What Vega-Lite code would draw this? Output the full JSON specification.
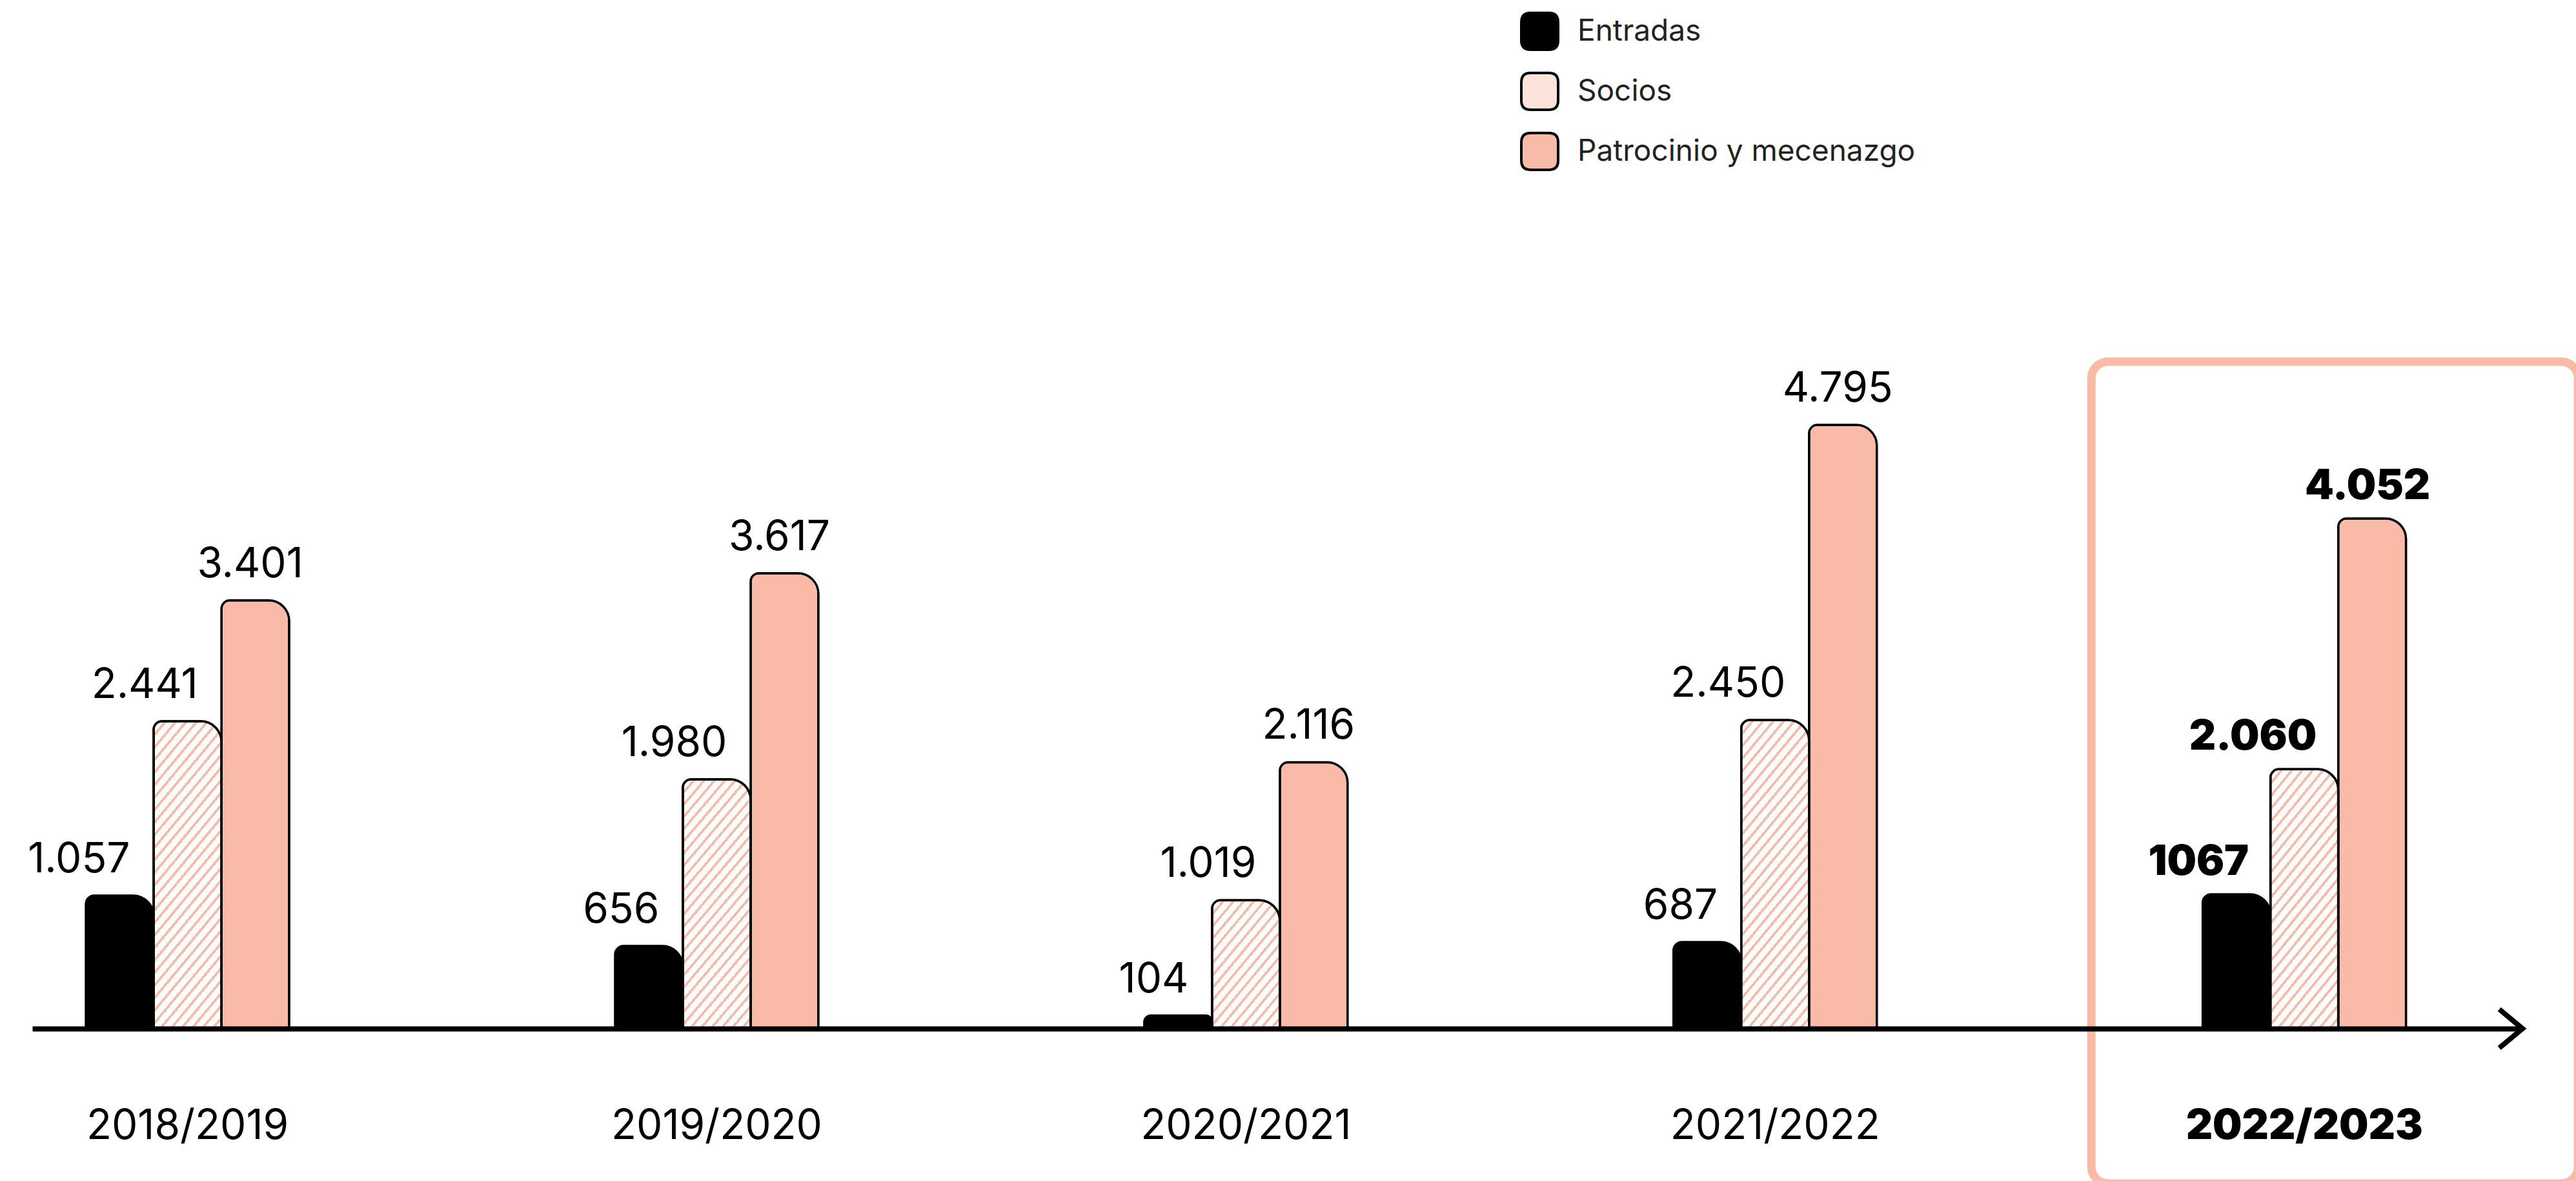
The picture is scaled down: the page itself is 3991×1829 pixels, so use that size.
{
  "$schema": "https://vega.github.io/schema/vega-lite/v6.json",
  "width": 3855,
  "height": 1593,
  "autosize": {"type": "none"},
  "padding": {"left": 50, "right": 86, "top": 0, "bottom": 236},
  "background": "white",
  "config": {"view": {"stroke": null}, "font": "Inter"},
  "resolve": {"scale": {"y": "independent"}},
  "data": {"values": [
    {"year": "2018/2019", "series": "Entradas", "value": 1057, "label": "1.057"},
    {"year": "2018/2019", "series": "Socios", "value": 2441, "label": "2.441"},
    {"year": "2018/2019", "series": "Patrocinio y mecenazgo", "value": 3401, "label": "3.401"},
    {"year": "2019/2020", "series": "Entradas", "value": 656, "label": "656"},
    {"year": "2019/2020", "series": "Socios", "value": 1980, "label": "1.980"},
    {"year": "2019/2020", "series": "Patrocinio y mecenazgo", "value": 3617, "label": "3.617"},
    {"year": "2020/2021", "series": "Entradas", "value": 104, "label": "104"},
    {"year": "2020/2021", "series": "Socios", "value": 1019, "label": "1.019"},
    {"year": "2020/2021", "series": "Patrocinio y mecenazgo", "value": 2116, "label": "2.116"},
    {"year": "2021/2022", "series": "Entradas", "value": 687, "label": "687"},
    {"year": "2021/2022", "series": "Socios", "value": 2450, "label": "2.450"},
    {"year": "2021/2022", "series": "Patrocinio y mecenazgo", "value": 4795, "label": "4.795"},
    {"year": "2022/2023", "series": "Entradas", "value": 1067, "label": "1067"},
    {"year": "2022/2023", "series": "Socios", "value": 2060, "label": "2.060"},
    {"year": "2022/2023", "series": "Patrocinio y mecenazgo", "value": 4052, "label": "4.052"}
  ]},
  "layer": [
    {
      "transform": [
        {"joinaggregate": [{"op": "max", "field": "value", "as": "topValue"}, {"op": "min", "field": "value", "as": "bottomValue"}]},
        {"filter": "datum.year === '2022/2023' && datum.series === 'Patrocinio y mecenazgo'"}
      ],
      "mark": {"type": "bar", "width": 754, "xOffset": 47, "fill": "transparent", "stroke": "#f9bba7", "strokeWidth": 13, "cornerRadius": 26},
      "encoding": {
        "x": {"field": "year", "type": "nominal", "sort": ["2018/2019", "2019/2020", "2020/2021", "2021/2022", "2022/2023"], "scale": {"type": "band", "paddingInner": 0.6158, "paddingOuter": 0.1588, "align": 0.319}},
        "y": {"field": "topValue", "type": "quantitative", "scale": {"domain": [988.4, 6858.6], "nice": false, "zero": false}, "axis": null},
        "y2": {"field": "bottomValue"}
      }
    },
    {
      "mark": {"type": "bar", "stroke": "black", "strokeWidth": 3.5, "cornerRadiusTopLeft": 13, "cornerRadiusTopRight": 32},
      "encoding": {
        "x": {
          "field": "year", "type": "nominal", "sort": ["2018/2019", "2019/2020", "2020/2021", "2021/2022", "2022/2023"],
          "scale": {"type": "band", "paddingInner": 0.6158, "paddingOuter": 0.1588, "align": 0.319},
          "axis": {
            "title": null, "domain": true, "domainColor": "black", "domainWidth": 8, "ticks": false, "grid": false,
            "bandPosition": 0.5, "labelAlign": "center",
            "labelFont": "Inter", "labelFontSize": 64, "labelColor": "black", "labelBaseline": "alphabetic", "labelPadding": 170, "labelAngle": 0, "labelLimit": 0,
            "labelFontWeight": {"condition": {"test": "datum.value === '2022/2023'", "value": 900}, "value": 400},
            "zindex": 1
          }
        },
        "xOffset": {"field": "series", "type": "nominal", "sort": ["Entradas", "Socios", "Patrocinio y mecenazgo"], "scale": {"paddingInner": 0, "paddingOuter": 0}},
        "y": {"field": "value", "type": "quantitative", "scale": {"domain": [0, 8170], "nice": false}, "axis": null},
        "fill": {
          "field": "series", "type": "nominal",
          "scale": {"domain": ["Entradas", "Socios", "Patrocinio y mecenazgo"], "range": ["#000000", "#fde4db", "#f9bba7"]},
          "legend": {
            "title": null, "orient": "none", "legendX": 2305, "legendY": 18, "padding": 0,
            "symbolType": "M -0.5 -1 L 0.5 -1 Q 1 -1 1 -0.5 L 1 0.5 Q 1 1 0.5 1 L -0.5 1 Q -1 1 -1 0.5 L -1 -0.5 Q -1 -1 -0.5 -1 Z",
            "symbolSize": 3249, "symbolStrokeColor": "black", "symbolStrokeWidth": 4, "symbolOpacity": 1,
            "labelFont": "Inter", "labelFontSize": 46, "labelColor": "#222222", "labelOffset": 28, "rowPadding": 20, "labelLimit": 0
          }
        }
      }
    },
    {
      "transform": [{"filter": "datum.series === 'Socios' && (datum.year === '2018/2019' || datum.year === '2021/2022')"}],
      "mark": {"type": "bar", "stroke": "black", "strokeWidth": 3.5, "cornerRadiusTopLeft": 13, "cornerRadiusTopRight": 32,
        "fill": {"gradient": "linear", "x1": 0, "y1": 0, "x2": 0.3124, "y2": 1.1818, "stops": [
{"offset":0,"color":"#f9bba7"},{"offset":0.0097,"color":"#f9bba7"},{"offset":0.0097,"color":"#fff"},{"offset":0.0323,"color":"#fff"},
{"offset":0.0323,"color":"#f9bba7"},{"offset":0.0419,"color":"#f9bba7"},{"offset":0.0419,"color":"#fff"},{"offset":0.0645,"color":"#fff"},
{"offset":0.0645,"color":"#f9bba7"},{"offset":0.0742,"color":"#f9bba7"},{"offset":0.0742,"color":"#fff"},{"offset":0.0968,"color":"#fff"},
{"offset":0.0968,"color":"#f9bba7"},{"offset":0.1065,"color":"#f9bba7"},{"offset":0.1065,"color":"#fff"},{"offset":0.129,"color":"#fff"},
{"offset":0.129,"color":"#f9bba7"},{"offset":0.1387,"color":"#f9bba7"},{"offset":0.1387,"color":"#fff"},{"offset":0.1613,"color":"#fff"},
{"offset":0.1613,"color":"#f9bba7"},{"offset":0.171,"color":"#f9bba7"},{"offset":0.171,"color":"#fff"},{"offset":0.1935,"color":"#fff"},
{"offset":0.1935,"color":"#f9bba7"},{"offset":0.2032,"color":"#f9bba7"},{"offset":0.2032,"color":"#fff"},{"offset":0.2258,"color":"#fff"},
{"offset":0.2258,"color":"#f9bba7"},{"offset":0.2355,"color":"#f9bba7"},{"offset":0.2355,"color":"#fff"},{"offset":0.2581,"color":"#fff"},
{"offset":0.2581,"color":"#f9bba7"},{"offset":0.2677,"color":"#f9bba7"},{"offset":0.2677,"color":"#fff"},{"offset":0.2903,"color":"#fff"},
{"offset":0.2903,"color":"#f9bba7"},{"offset":0.3,"color":"#f9bba7"},{"offset":0.3,"color":"#fff"},{"offset":0.3226,"color":"#fff"},
{"offset":0.3226,"color":"#f9bba7"},{"offset":0.3323,"color":"#f9bba7"},{"offset":0.3323,"color":"#fff"},{"offset":0.3548,"color":"#fff"},
{"offset":0.3548,"color":"#f9bba7"},{"offset":0.3645,"color":"#f9bba7"},{"offset":0.3645,"color":"#fff"},{"offset":0.3871,"color":"#fff"},
{"offset":0.3871,"color":"#f9bba7"},{"offset":0.3968,"color":"#f9bba7"},{"offset":0.3968,"color":"#fff"},{"offset":0.4194,"color":"#fff"},
{"offset":0.4194,"color":"#f9bba7"},{"offset":0.429,"color":"#f9bba7"},{"offset":0.429,"color":"#fff"},{"offset":0.4516,"color":"#fff"},
{"offset":0.4516,"color":"#f9bba7"},{"offset":0.4613,"color":"#f9bba7"},{"offset":0.4613,"color":"#fff"},{"offset":0.4839,"color":"#fff"},
{"offset":0.4839,"color":"#f9bba7"},{"offset":0.4935,"color":"#f9bba7"},{"offset":0.4935,"color":"#fff"},{"offset":0.5161,"color":"#fff"},
{"offset":0.5161,"color":"#f9bba7"},{"offset":0.5258,"color":"#f9bba7"},{"offset":0.5258,"color":"#fff"},{"offset":0.5484,"color":"#fff"},
{"offset":0.5484,"color":"#f9bba7"},{"offset":0.5581,"color":"#f9bba7"},{"offset":0.5581,"color":"#fff"},{"offset":0.5806,"color":"#fff"},
{"offset":0.5806,"color":"#f9bba7"},{"offset":0.5903,"color":"#f9bba7"},{"offset":0.5903,"color":"#fff"},{"offset":0.6129,"color":"#fff"},
{"offset":0.6129,"color":"#f9bba7"},{"offset":0.6226,"color":"#f9bba7"},{"offset":0.6226,"color":"#fff"},{"offset":0.6452,"color":"#fff"},
{"offset":0.6452,"color":"#f9bba7"},{"offset":0.6548,"color":"#f9bba7"},{"offset":0.6548,"color":"#fff"},{"offset":0.6774,"color":"#fff"},
{"offset":0.6774,"color":"#f9bba7"},{"offset":0.6871,"color":"#f9bba7"},{"offset":0.6871,"color":"#fff"},{"offset":0.7097,"color":"#fff"},
{"offset":0.7097,"color":"#f9bba7"},{"offset":0.7194,"color":"#f9bba7"},{"offset":0.7194,"color":"#fff"},{"offset":0.7419,"color":"#fff"},
{"offset":0.7419,"color":"#f9bba7"},{"offset":0.7516,"color":"#f9bba7"},{"offset":0.7516,"color":"#fff"},{"offset":0.7742,"color":"#fff"},
{"offset":0.7742,"color":"#f9bba7"},{"offset":0.7839,"color":"#f9bba7"},{"offset":0.7839,"color":"#fff"},{"offset":0.8065,"color":"#fff"},
{"offset":0.8065,"color":"#f9bba7"},{"offset":0.8161,"color":"#f9bba7"},{"offset":0.8161,"color":"#fff"},{"offset":0.8387,"color":"#fff"},
{"offset":0.8387,"color":"#f9bba7"},{"offset":0.8484,"color":"#f9bba7"},{"offset":0.8484,"color":"#fff"},{"offset":0.871,"color":"#fff"},
{"offset":0.871,"color":"#f9bba7"},{"offset":0.8806,"color":"#f9bba7"},{"offset":0.8806,"color":"#fff"},{"offset":0.9032,"color":"#fff"},
{"offset":0.9032,"color":"#f9bba7"},{"offset":0.9129,"color":"#f9bba7"},{"offset":0.9129,"color":"#fff"},{"offset":0.9355,"color":"#fff"},
{"offset":0.9355,"color":"#f9bba7"},{"offset":0.9452,"color":"#f9bba7"},{"offset":0.9452,"color":"#fff"},{"offset":0.9677,"color":"#fff"},
{"offset":0.9677,"color":"#f9bba7"},{"offset":0.9774,"color":"#f9bba7"},{"offset":0.9774,"color":"#fff"},{"offset":1,"color":"#fff"}
        ]}},
      "encoding": {
        "x": {"field": "year", "type": "nominal", "sort": ["2018/2019", "2019/2020", "2020/2021", "2021/2022", "2022/2023"], "scale": {"type": "band", "paddingInner": 0.6158, "paddingOuter": 0.1588, "align": 0.319}},
        "xOffset": {"field": "series", "type": "nominal", "sort": ["Entradas", "Socios", "Patrocinio y mecenazgo"], "scale": {"paddingInner": 0, "paddingOuter": 0}},
        "y": {"field": "value", "type": "quantitative", "scale": {"domain": [0, 8170], "nice": false}, "axis": null}
      }
    },
    {
      "transform": [{"filter": "datum.series === 'Socios' && (datum.year === '2019/2020' || datum.year === '2022/2023')"}],
      "mark": {"type": "bar", "stroke": "black", "strokeWidth": 3.5, "cornerRadiusTopLeft": 13, "cornerRadiusTopRight": 32,
        "fill": {"gradient": "linear", "x1": 0, "y1": 0, "x2": 0.3829, "y2": 1.1974, "stops": [
{"offset":0,"color":"#f9bba7"},{"offset":0.0111,"color":"#f9bba7"},{"offset":0.0111,"color":"#fff"},{"offset":0.037,"color":"#fff"},
{"offset":0.037,"color":"#f9bba7"},{"offset":0.0481,"color":"#f9bba7"},{"offset":0.0481,"color":"#fff"},{"offset":0.0741,"color":"#fff"},
{"offset":0.0741,"color":"#f9bba7"},{"offset":0.0852,"color":"#f9bba7"},{"offset":0.0852,"color":"#fff"},{"offset":0.1111,"color":"#fff"},
{"offset":0.1111,"color":"#f9bba7"},{"offset":0.1222,"color":"#f9bba7"},{"offset":0.1222,"color":"#fff"},{"offset":0.1481,"color":"#fff"},
{"offset":0.1481,"color":"#f9bba7"},{"offset":0.1593,"color":"#f9bba7"},{"offset":0.1593,"color":"#fff"},{"offset":0.1852,"color":"#fff"},
{"offset":0.1852,"color":"#f9bba7"},{"offset":0.1963,"color":"#f9bba7"},{"offset":0.1963,"color":"#fff"},{"offset":0.2222,"color":"#fff"},
{"offset":0.2222,"color":"#f9bba7"},{"offset":0.2333,"color":"#f9bba7"},{"offset":0.2333,"color":"#fff"},{"offset":0.2593,"color":"#fff"},
{"offset":0.2593,"color":"#f9bba7"},{"offset":0.2704,"color":"#f9bba7"},{"offset":0.2704,"color":"#fff"},{"offset":0.2963,"color":"#fff"},
{"offset":0.2963,"color":"#f9bba7"},{"offset":0.3074,"color":"#f9bba7"},{"offset":0.3074,"color":"#fff"},{"offset":0.3333,"color":"#fff"},
{"offset":0.3333,"color":"#f9bba7"},{"offset":0.3444,"color":"#f9bba7"},{"offset":0.3444,"color":"#fff"},{"offset":0.3704,"color":"#fff"},
{"offset":0.3704,"color":"#f9bba7"},{"offset":0.3815,"color":"#f9bba7"},{"offset":0.3815,"color":"#fff"},{"offset":0.4074,"color":"#fff"},
{"offset":0.4074,"color":"#f9bba7"},{"offset":0.4185,"color":"#f9bba7"},{"offset":0.4185,"color":"#fff"},{"offset":0.4444,"color":"#fff"},
{"offset":0.4444,"color":"#f9bba7"},{"offset":0.4556,"color":"#f9bba7"},{"offset":0.4556,"color":"#fff"},{"offset":0.4815,"color":"#fff"},
{"offset":0.4815,"color":"#f9bba7"},{"offset":0.4926,"color":"#f9bba7"},{"offset":0.4926,"color":"#fff"},{"offset":0.5185,"color":"#fff"},
{"offset":0.5185,"color":"#f9bba7"},{"offset":0.5296,"color":"#f9bba7"},{"offset":0.5296,"color":"#fff"},{"offset":0.5556,"color":"#fff"},
{"offset":0.5556,"color":"#f9bba7"},{"offset":0.5667,"color":"#f9bba7"},{"offset":0.5667,"color":"#fff"},{"offset":0.5926,"color":"#fff"},
{"offset":0.5926,"color":"#f9bba7"},{"offset":0.6037,"color":"#f9bba7"},{"offset":0.6037,"color":"#fff"},{"offset":0.6296,"color":"#fff"},
{"offset":0.6296,"color":"#f9bba7"},{"offset":0.6407,"color":"#f9bba7"},{"offset":0.6407,"color":"#fff"},{"offset":0.6667,"color":"#fff"},
{"offset":0.6667,"color":"#f9bba7"},{"offset":0.6778,"color":"#f9bba7"},{"offset":0.6778,"color":"#fff"},{"offset":0.7037,"color":"#fff"},
{"offset":0.7037,"color":"#f9bba7"},{"offset":0.7148,"color":"#f9bba7"},{"offset":0.7148,"color":"#fff"},{"offset":0.7407,"color":"#fff"},
{"offset":0.7407,"color":"#f9bba7"},{"offset":0.7519,"color":"#f9bba7"},{"offset":0.7519,"color":"#fff"},{"offset":0.7778,"color":"#fff"},
{"offset":0.7778,"color":"#f9bba7"},{"offset":0.7889,"color":"#f9bba7"},{"offset":0.7889,"color":"#fff"},{"offset":0.8148,"color":"#fff"},
{"offset":0.8148,"color":"#f9bba7"},{"offset":0.8259,"color":"#f9bba7"},{"offset":0.8259,"color":"#fff"},{"offset":0.8519,"color":"#fff"},
{"offset":0.8519,"color":"#f9bba7"},{"offset":0.863,"color":"#f9bba7"},{"offset":0.863,"color":"#fff"},{"offset":0.8889,"color":"#fff"},
{"offset":0.8889,"color":"#f9bba7"},{"offset":0.9,"color":"#f9bba7"},{"offset":0.9,"color":"#fff"},{"offset":0.9259,"color":"#fff"},
{"offset":0.9259,"color":"#f9bba7"},{"offset":0.937,"color":"#f9bba7"},{"offset":0.937,"color":"#fff"},{"offset":0.963,"color":"#fff"},
{"offset":0.963,"color":"#f9bba7"},{"offset":0.9741,"color":"#f9bba7"},{"offset":0.9741,"color":"#fff"},{"offset":1,"color":"#fff"}
        ]}},
      "encoding": {
        "x": {"field": "year", "type": "nominal", "sort": ["2018/2019", "2019/2020", "2020/2021", "2021/2022", "2022/2023"], "scale": {"type": "band", "paddingInner": 0.6158, "paddingOuter": 0.1588, "align": 0.319}},
        "xOffset": {"field": "series", "type": "nominal", "sort": ["Entradas", "Socios", "Patrocinio y mecenazgo"], "scale": {"paddingInner": 0, "paddingOuter": 0}},
        "y": {"field": "value", "type": "quantitative", "scale": {"domain": [0, 8170], "nice": false}, "axis": null}
      }
    },
    {
      "transform": [{"filter": "datum.series === 'Socios' && datum.year === '2020/2021'"}],
      "mark": {"type": "bar", "stroke": "black", "strokeWidth": 3.5, "cornerRadiusTopLeft": 13, "cornerRadiusTopRight": 32,
        "fill": {"gradient": "linear", "x1": 0, "y1": 0, "x2": 0.7382, "y2": 1.1658, "stops": [
{"offset":0,"color":"#f9bba7"},{"offset":0.0176,"color":"#f9bba7"},{"offset":0.0176,"color":"#fff"},{"offset":0.0588,"color":"#fff"},
{"offset":0.0588,"color":"#f9bba7"},{"offset":0.0765,"color":"#f9bba7"},{"offset":0.0765,"color":"#fff"},{"offset":0.1176,"color":"#fff"},
{"offset":0.1176,"color":"#f9bba7"},{"offset":0.1353,"color":"#f9bba7"},{"offset":0.1353,"color":"#fff"},{"offset":0.1765,"color":"#fff"},
{"offset":0.1765,"color":"#f9bba7"},{"offset":0.1941,"color":"#f9bba7"},{"offset":0.1941,"color":"#fff"},{"offset":0.2353,"color":"#fff"},
{"offset":0.2353,"color":"#f9bba7"},{"offset":0.2529,"color":"#f9bba7"},{"offset":0.2529,"color":"#fff"},{"offset":0.2941,"color":"#fff"},
{"offset":0.2941,"color":"#f9bba7"},{"offset":0.3118,"color":"#f9bba7"},{"offset":0.3118,"color":"#fff"},{"offset":0.3529,"color":"#fff"},
{"offset":0.3529,"color":"#f9bba7"},{"offset":0.3706,"color":"#f9bba7"},{"offset":0.3706,"color":"#fff"},{"offset":0.4118,"color":"#fff"},
{"offset":0.4118,"color":"#f9bba7"},{"offset":0.4294,"color":"#f9bba7"},{"offset":0.4294,"color":"#fff"},{"offset":0.4706,"color":"#fff"},
{"offset":0.4706,"color":"#f9bba7"},{"offset":0.4882,"color":"#f9bba7"},{"offset":0.4882,"color":"#fff"},{"offset":0.5294,"color":"#fff"},
{"offset":0.5294,"color":"#f9bba7"},{"offset":0.5471,"color":"#f9bba7"},{"offset":0.5471,"color":"#fff"},{"offset":0.5882,"color":"#fff"},
{"offset":0.5882,"color":"#f9bba7"},{"offset":0.6059,"color":"#f9bba7"},{"offset":0.6059,"color":"#fff"},{"offset":0.6471,"color":"#fff"},
{"offset":0.6471,"color":"#f9bba7"},{"offset":0.6647,"color":"#f9bba7"},{"offset":0.6647,"color":"#fff"},{"offset":0.7059,"color":"#fff"},
{"offset":0.7059,"color":"#f9bba7"},{"offset":0.7235,"color":"#f9bba7"},{"offset":0.7235,"color":"#fff"},{"offset":0.7647,"color":"#fff"},
{"offset":0.7647,"color":"#f9bba7"},{"offset":0.7824,"color":"#f9bba7"},{"offset":0.7824,"color":"#fff"},{"offset":0.8235,"color":"#fff"},
{"offset":0.8235,"color":"#f9bba7"},{"offset":0.8412,"color":"#f9bba7"},{"offset":0.8412,"color":"#fff"},{"offset":0.8824,"color":"#fff"},
{"offset":0.8824,"color":"#f9bba7"},{"offset":0.9,"color":"#f9bba7"},{"offset":0.9,"color":"#fff"},{"offset":0.9412,"color":"#fff"},
{"offset":0.9412,"color":"#f9bba7"},{"offset":0.9588,"color":"#f9bba7"},{"offset":0.9588,"color":"#fff"},{"offset":1,"color":"#fff"}
        ]}},
      "encoding": {
        "x": {"field": "year", "type": "nominal", "sort": ["2018/2019", "2019/2020", "2020/2021", "2021/2022", "2022/2023"], "scale": {"type": "band", "paddingInner": 0.6158, "paddingOuter": 0.1588, "align": 0.319}},
        "xOffset": {"field": "series", "type": "nominal", "sort": ["Entradas", "Socios", "Patrocinio y mecenazgo"], "scale": {"paddingInner": 0, "paddingOuter": 0}},
        "y": {"field": "value", "type": "quantitative", "scale": {"domain": [0, 8170], "nice": false}, "axis": null}
      }
    },
    {
      "transform": [{"filter": "datum.year !== '2022/2023' && datum.series !== 'Patrocinio y mecenazgo'"}],
      "mark": {"type": "text", "font": "Inter", "fontSize": 64, "fontWeight": 400, "align": "right", "baseline": "alphabetic", "dx": 16, "dy": -36, "fill": "#000000"},
      "encoding": {
        "x": {"field": "year", "type": "nominal", "sort": ["2018/2019", "2019/2020", "2020/2021", "2021/2022", "2022/2023"], "scale": {"type": "band", "paddingInner": 0.6158, "paddingOuter": 0.1588, "align": 0.319}},
        "xOffset": {"field": "series", "type": "nominal", "sort": ["Entradas", "Socios", "Patrocinio y mecenazgo"], "scale": {"paddingInner": 0, "paddingOuter": 0}},
        "y": {"field": "value", "type": "quantitative", "scale": {"domain": [0, 8170], "nice": false}, "axis": null},
        "text": {"field": "label", "type": "nominal"}
      }
    },
    {
      "transform": [{"filter": "datum.year !== '2022/2023' && datum.series === 'Patrocinio y mecenazgo'"}],
      "mark": {"type": "text", "font": "Inter", "fontSize": 64, "fontWeight": 400, "align": "center", "baseline": "alphabetic", "dx": -8, "dy": -36, "fill": "#000000"},
      "encoding": {
        "x": {"field": "year", "type": "nominal", "sort": ["2018/2019", "2019/2020", "2020/2021", "2021/2022", "2022/2023"], "scale": {"type": "band", "paddingInner": 0.6158, "paddingOuter": 0.1588, "align": 0.319}},
        "xOffset": {"field": "series", "type": "nominal", "sort": ["Entradas", "Socios", "Patrocinio y mecenazgo"], "scale": {"paddingInner": 0, "paddingOuter": 0}},
        "y": {"field": "value", "type": "quantitative", "scale": {"domain": [0, 8170], "nice": false}, "axis": null},
        "text": {"field": "label", "type": "nominal"}
      }
    },
    {
      "transform": [{"filter": "datum.year === '2022/2023' && datum.series !== 'Patrocinio y mecenazgo'"}],
      "mark": {"type": "text", "font": "Inter", "fontSize": 64, "fontWeight": 900, "align": "right", "baseline": "alphabetic", "dx": 19, "dy": -30, "fill": "#000000"},
      "encoding": {
        "x": {"field": "year", "type": "nominal", "sort": ["2018/2019", "2019/2020", "2020/2021", "2021/2022", "2022/2023"], "scale": {"type": "band", "paddingInner": 0.6158, "paddingOuter": 0.1588, "align": 0.319}},
        "xOffset": {"field": "series", "type": "nominal", "sort": ["Entradas", "Socios", "Patrocinio y mecenazgo"], "scale": {"paddingInner": 0, "paddingOuter": 0}},
        "y": {"field": "value", "type": "quantitative", "scale": {"domain": [0, 8170], "nice": false}, "axis": null},
        "text": {"field": "label", "type": "nominal"}
      }
    },
    {
      "transform": [{"filter": "datum.year === '2022/2023' && datum.series === 'Patrocinio y mecenazgo'"}],
      "mark": {"type": "text", "font": "Inter", "fontSize": 64, "fontWeight": 900, "align": "center", "baseline": "alphabetic", "dx": -7, "dy": -30, "fill": "#000000"},
      "encoding": {
        "x": {"field": "year", "type": "nominal", "sort": ["2018/2019", "2019/2020", "2020/2021", "2021/2022", "2022/2023"], "scale": {"type": "band", "paddingInner": 0.6158, "paddingOuter": 0.1588, "align": 0.319}},
        "xOffset": {"field": "series", "type": "nominal", "sort": ["Entradas", "Socios", "Patrocinio y mecenazgo"], "scale": {"paddingInner": 0, "paddingOuter": 0}},
        "y": {"field": "value", "type": "quantitative", "scale": {"domain": [0, 8170], "nice": false}, "axis": null},
        "text": {"field": "label", "type": "nominal"}
      }
    },
    {
      "transform": [{"filter": "datum.year === '2022/2023' && datum.series === 'Patrocinio y mecenazgo'"}],
      "mark": {"type": "point", "shape": "M -1.2 -1 L 0 0 L -1.2 1", "size": 3600, "filled": false, "stroke": "black", "strokeWidth": 8, "opacity": 1, "strokeJoin": "miter", "y": "height", "xOffset": 338},
      "encoding": {
        "x": {"field": "year", "type": "nominal", "sort": ["2018/2019", "2019/2020", "2020/2021", "2021/2022", "2022/2023"], "scale": {"type": "band", "paddingInner": 0.6158, "paddingOuter": 0.1588, "align": 0.319}}
      }
    }
  ]
}
